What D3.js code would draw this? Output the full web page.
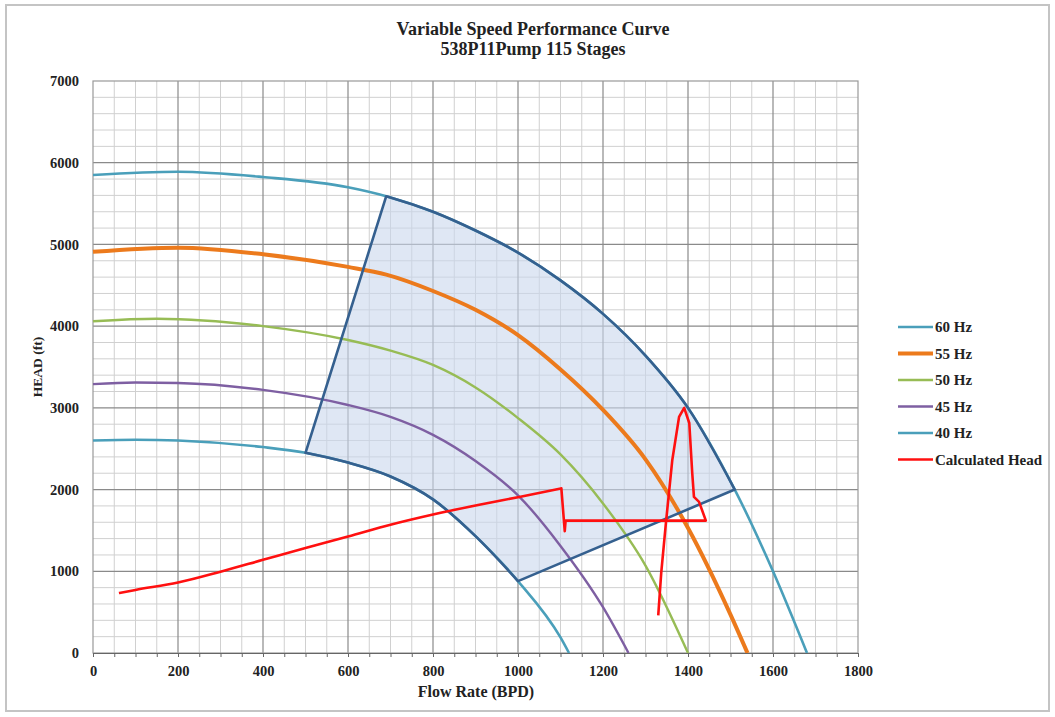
<!DOCTYPE html>
<html><head><meta charset="utf-8">
<script src="https://cdn.jsdelivr.net/npm/d3@7"></script>
<style>body{margin:0;background:#fff}svg{display:block}</style>
</head><body><svg id="c" width="1055" height="717"></svg>
<script>
// ---- data ----
const hz60 = [[0,5850],[200,5890],[400,5825],[600,5700],[690,5590],[800,5400],[900,5170],[1000,4900],[1100,4560],[1200,4150],[1300,3640],[1400,3000],[1510,2000],[1600,1000],[1680,0]];
const hz55 = [[0,4910],[200,4960],[400,4880],[600,4725],[690,4630],[800,4430],[900,4200],[1000,3890],[1100,3470],[1200,2975],[1300,2370],[1400,1530],[1500,470],[1540,0]];
const hz50 = [[0,4060],[150,4090],[400,4000],[600,3830],[700,3700],[800,3525],[900,3250],[1000,2875],[1100,2430],[1200,1830],[1300,1070],[1400,0]];
const hz45 = [[0,3290],[100,3310],[200,3305],[400,3220],[600,3035],[700,2890],[800,2670],[900,2350],[1000,1930],[1100,1310],[1200,560],[1260,0]];
const hz40 = [[0,2600],[100,2610],[200,2600],[400,2520],[500,2450],[600,2330],[700,2160],[800,1880],[900,1430],[1000,880],[1100,190],[1120,0]];
const calcHead = [[61,734],[100,772],[200,862],[300,995],[400,1140],[500,1285],[600,1425],[700,1570],[800,1695],[909,1815],[1003,1910],[1102,2015],[1110,1490],[1112,1620],[1442,1620],[1426,1850],[1414,1910],[1410,2200],[1403,2815],[1391,3000],[1379,2890],[1363,2360],[1356,2000],[1348,1590],[1337,980],[1330,460]];
const envelopeCorners = {leftLow:[500,2450], leftHigh:[690,5590], rightHigh:[1510,2000], rightLow:[1000,880]};
const xTicks = [0,200,400,600,800,1000,1200,1400,1600,1800];
const yTicks = [0,1000,2000,3000,4000,5000,6000,7000];
const seriesNames = ["60 Hz","55 Hz","50 Hz","45 Hz","40 Hz","Calculated Head"];
const seriesColors = ["#4A9FBA","#EC7A1C","#97BC55","#7E5FA2","#4A9FBA","#FF1010"];
const seriesWidths = [2.6,4,2.4,2.4,2.6,2.6];

// ---- chart ----
const svg = d3.select("#c");
const L=93, R=858, T=81, B=653;
const x = d3.scaleLinear().domain([0,1800]).range([L,R]);
const y = d3.scaleLinear().domain([0,7000]).range([B,T]);
const font = "'Liberation Serif','Times New Roman',serif";

svg.append("rect").attr("x",6).attr("y",5).attr("width",1043).attr("height",706)
  .attr("fill","#fff").attr("stroke","#c4c4c4").attr("stroke-width",2);

// grid
const g = svg.append("g");
g.selectAll(".vm").data(d3.range(50,1800,50).filter(v=>v%200!==0)).join("line")
  .attr("x1",d=>x(d)).attr("x2",d=>x(d)).attr("y1",T).attr("y2",B).attr("stroke","#d0d0d0").attr("stroke-width",1);
g.selectAll(".hm").data(d3.range(200,7000,200).filter(v=>v%1000!==0)).join("line")
  .attr("x1",L).attr("x2",R).attr("y1",d=>y(d)).attr("y2",d=>y(d)).attr("stroke","#d0d0d0").attr("stroke-width",1);
g.selectAll(".vM").data(xTicks.slice(1,-1)).join("line")
  .attr("x1",d=>x(d)).attr("x2",d=>x(d)).attr("y1",T).attr("y2",B).attr("stroke","#8a8a8a").attr("stroke-width",1.2);
g.selectAll(".hM").data(yTicks.slice(1,-1)).join("line")
  .attr("x1",L).attr("x2",R).attr("y1",d=>y(d)).attr("y2",d=>y(d)).attr("stroke","#8a8a8a").attr("stroke-width",1.2);
svg.append("rect").attr("x",L).attr("y",T).attr("width",R-L).attr("height",B-T)
  .attr("fill","none").attr("stroke","#999").attr("stroke-width",1.2);

const line = d3.line().x(d=>x(d[0])).y(d=>y(d[1])).curve(d3.curveMonotoneX);
const lineLin = d3.line().x(d=>x(d[0])).y(d=>y(d[1]));

// envelope
const c = envelopeCorners;
const seg60 = hz60.filter(d=>d[0]>=c.leftHigh[0] && d[0]<=c.rightHigh[0]);
const seg40 = hz40.filter(d=>d[0]>=c.leftLow[0] && d[0]<=c.rightLow[0]).reverse();
const envPath = "M"+x(c.leftLow[0])+","+y(c.leftLow[1]) +
  line(seg60).replace(/^M/,"L") +
  line(seg40).replace(/^M/,"L") + "Z";
svg.append("path").attr("d",envPath).attr("fill","#C9D7EC").attr("fill-opacity",0.6).attr("stroke","none");

// curves
const allSeries = [hz60,hz55,hz50,hz45,hz40];
allSeries.forEach((s,i)=>{
  svg.append("path").attr("d",line(s)).attr("fill","none")
    .attr("stroke",seriesColors[i]).attr("stroke-width",seriesWidths[i]).attr("stroke-linejoin","round");
});
svg.append("path").attr("d",envPath).attr("fill","none").attr("stroke","#35608F").attr("stroke-width",2.6).attr("stroke-linejoin","round");

// calculated head: smooth rising part, then straight hand-drawn segments
const splitIdx = 12;
const redPath = line(calcHead.slice(0,splitIdx)) + lineLin(calcHead.slice(splitIdx-1)).replace(/^M/,"L");
svg.append("path").attr("d",redPath).attr("fill","none")
  .attr("stroke",seriesColors[5]).attr("stroke-width",seriesWidths[5]).attr("stroke-linejoin","round");

// axes
const xAxis = d3.axisBottom(x).tickValues(d3.range(0,1801,50)).tickSize(4).tickFormat(d=>xTicks.includes(d)?d:"");
const ax = svg.append("g").attr("transform",`translate(0,${B})`).call(xAxis);
ax.select(".domain").attr("stroke","#666");
ax.selectAll(".tick line").attr("stroke","#666");
ax.selectAll("text").attr("font-family",font).attr("font-weight","bold").attr("font-size",14.5).attr("fill","#222").attr("dy","1.1em");
const yAxis = d3.axisLeft(y).tickValues(yTicks).tickSize(0).tickPadding(14).tickFormat(d3.format("d"));
const ay = svg.append("g").attr("transform",`translate(${L},0)`).call(yAxis);
ay.select(".domain").remove();
ay.selectAll("text").attr("font-family",font).attr("font-weight","bold").attr("font-size",14.5).attr("fill","#222");

// titles
const t = svg.append("text").attr("x",533).attr("y",35).attr("text-anchor","middle")
  .attr("font-family",font).attr("font-weight","bold").attr("font-size",18).attr("fill","#222");
t.append("tspan").attr("x",533).attr("dy",0).text("Variable Speed Performance Curve");
t.append("tspan").attr("x",533).attr("dy",20).text("538P11Pump 115 Stages");
svg.append("text").attr("x",476).attr("y",697).attr("text-anchor","middle")
  .attr("font-family",font).attr("font-weight","bold").attr("font-size",16).attr("fill","#222").text("Flow Rate (BPD)");
svg.append("text").attr("transform","translate(42,367) rotate(-90)").attr("text-anchor","middle")
  .attr("font-family",font).attr("font-weight","bold").attr("font-size",13.5).attr("fill","#222").text("HEAD (ft)");

// legend
const lg = svg.append("g");
seriesNames.forEach((n,i)=>{
  const yy = 327 + i*26.5;
  lg.append("line").attr("x1",898).attr("x2",933).attr("y1",yy).attr("y2",yy)
    .attr("stroke",seriesColors[i]).attr("stroke-width",seriesWidths[i]);
  lg.append("text").attr("x",935).attr("y",yy+5).attr("font-family",font).attr("font-weight","bold")
    .attr("font-size",15).attr("fill","#222").text(n);
});
</script></body></html>
